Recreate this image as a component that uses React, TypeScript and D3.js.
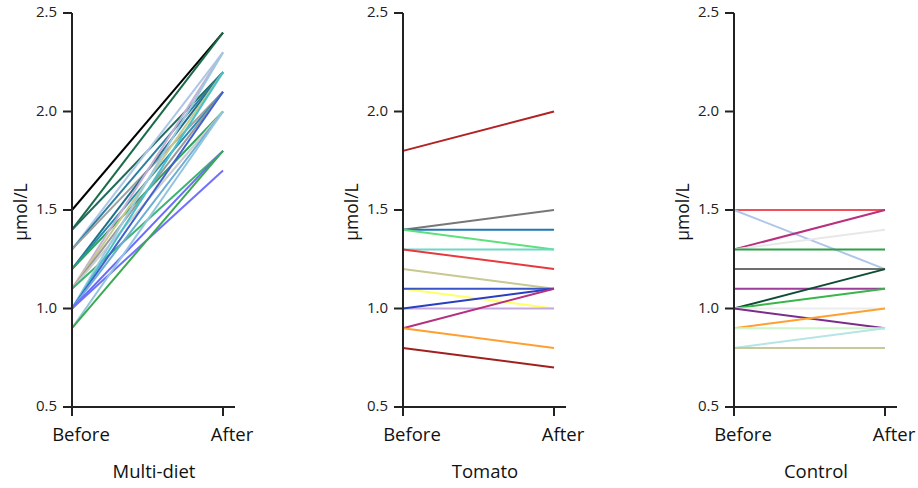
import React from "react";
import * as d3 from "d3";

const timepoints = ["Before", "After"];
const groups = ["Multi-diet", "Tomato", "Control"];
const yTicks = [0.5, 1.0, 1.5, 2.0, 2.5];

// [before, after, color]
const multiDiet: [number, number, string][] = [
  [1.5, 2.4, "#000000"],
  [1.4, 2.4, "#1a6b4a"],
  [1.4, 2.2, "#1e6b5c"],
  [1.3, 2.3, "#aec7e8"],
  [1.3, 2.2, "#2c7fa0"],
  [1.3, 2.1, "#a0a0a0"],
  [1.2, 2.2, "#1f6f8b"],
  [1.2, 2.1, "#2a8cb0"],
  [1.2, 2.0, "#2ca25f"],
  [1.1, 2.3, "#c5b0d5"],
  [1.1, 2.2, "#c9c98f"],
  [1.1, 2.1, "#999999"],
  [1.1, 2.0, "#cccccc"],
  [1.1, 1.8, "#3cb371"],
  [1.0, 2.3, "#9ecae1"],
  [1.0, 2.2, "#48c0c8"],
  [1.0, 2.1, "#4060d0"],
  [1.0, 2.0, "#6baed6"],
  [1.0, 1.8, "#6a6aff"],
  [1.0, 1.7, "#7070ff"],
  [0.9, 2.0, "#92c5de"],
  [0.9, 1.8, "#3aaa50"],
];

const tomato: [number, number, string][] = [
  [1.8, 2.0, "#b22222"],
  [1.4, 1.5, "#777777"],
  [1.4, 1.4, "#1f77b4"],
  [1.4, 1.3, "#5ee07a"],
  [1.3, 1.3, "#6dd8c8"],
  [1.3, 1.2, "#e8383d"],
  [1.2, 1.1, "#c8c890"],
  [1.1, 1.0, "#ffff66"],
  [1.1, 1.1, "#3a55c8"],
  [1.0, 1.0, "#c5a8e0"],
  [1.0, 1.1, "#2a3fbf"],
  [0.9, 1.1, "#b5307e"],
  [0.9, 0.8, "#ff9f30"],
  [0.8, 0.7, "#a02020"],
];

const control: [number, number, string][] = [
  [1.5, 1.5, "#f0505a"],
  [1.5, 1.2, "#aec7e8"],
  [1.3, 1.5, "#b8307e"],
  [1.3, 1.4, "#e8e8e8"],
  [1.3, 1.3, "#2e9e4a"],
  [1.2, 1.2, "#6e6e6e"],
  [1.1, 1.1, "#9b3f9b"],
  [1.0, 1.2, "#0d4d33"],
  [1.0, 1.1, "#3ab54a"],
  [1.0, 1.0, "#ececec"],
  [1.0, 0.9, "#7b2d8b"],
  [0.9, 1.0, "#ffa030"],
  [0.9, 0.9, "#ccf5cc"],
  [0.8, 0.9, "#b5e5e5"],
  [0.8, 0.8, "#c8c89a"],
];

const panelData = [multiDiet, tomato, control];

const W = 918;
const H = 488;
const FONT = "'Open Sans', 'Noto Sans', sans-serif";

export default function App() {
  const y = d3.scaleLinear().domain([0.5, 2.5]).range([407, 13]);
  const axisStart = [72, 403, 734];
  const panelW = 151;

  return (
    <svg
      width={W}
      height={H}
      style={{ position: "absolute", left: 0, top: 0, background: "#fff" }}
      fontFamily={FONT}
    >
      {groups.map((g, gi) => {
        const x0 = axisStart[gi];
        const x = d3.scalePoint<string>().domain(timepoints).range([x0, x0 + panelW]);
        const line = d3
          .line<[string, number]>()
          .x((d) => x(d[0]) as number)
          .y((d) => y(d[1]));
        return (
          <g key={g}>
            {panelData[gi].map((s, i) => (
              <path
                key={i}
                d={line([
                  ["Before", s[0]],
                  ["After", s[1]],
                ]) as string}
                fill="none"
                stroke={s[2]}
                strokeWidth={2}
              />
            ))}
            {/* y axis */}
            <line x1={x0} x2={x0} y1={y(2.5)} y2={y(0.5) + 9} stroke="#222" strokeWidth={2} />
            {yTicks.map((t) => (
              <g key={t}>
                <line x1={x0 - 9} x2={x0} y1={y(t)} y2={y(t)} stroke="#222" strokeWidth={2} />
                <text
                  x={x0 - 15}
                  y={y(t)}
                  textAnchor="end"
                  dominantBaseline="middle"
                  fontSize={15}
                  fill="#222"
                >
                  {t.toFixed(1)}
                </text>
              </g>
            ))}
            <text
              transform={`translate(${x0 - 45},${(y(2.5) + y(0.5)) / 2 + 2}) rotate(-90)`}
              textAnchor="middle"
              fontSize={17.5}
              fill="#111"
            >
              μmol/L
            </text>
            {/* x axis */}
            <line x1={x0} x2={x0 + panelW + 12} y1={y(0.5)} y2={y(0.5)} stroke="#222" strokeWidth={2} />
            {timepoints.map((t) => (
              <g key={t}>
                <line
                  x1={x(t) as number}
                  x2={x(t) as number}
                  y1={y(0.5)}
                  y2={y(0.5) + 9}
                  stroke="#222"
                  strokeWidth={2}
                />
                <text
                  x={(x(t) as number) + 9}
                  y={441}
                  textAnchor="middle"
                  fontSize={18.5}
                  fill="#111"
                >
                  {t}
                </text>
              </g>
            ))}
            <text x={x0 + 82} y={478} textAnchor="middle" fontSize={18.5} fill="#111">
              {g}
            </text>
          </g>
        );
      })}
    </svg>
  );
}
